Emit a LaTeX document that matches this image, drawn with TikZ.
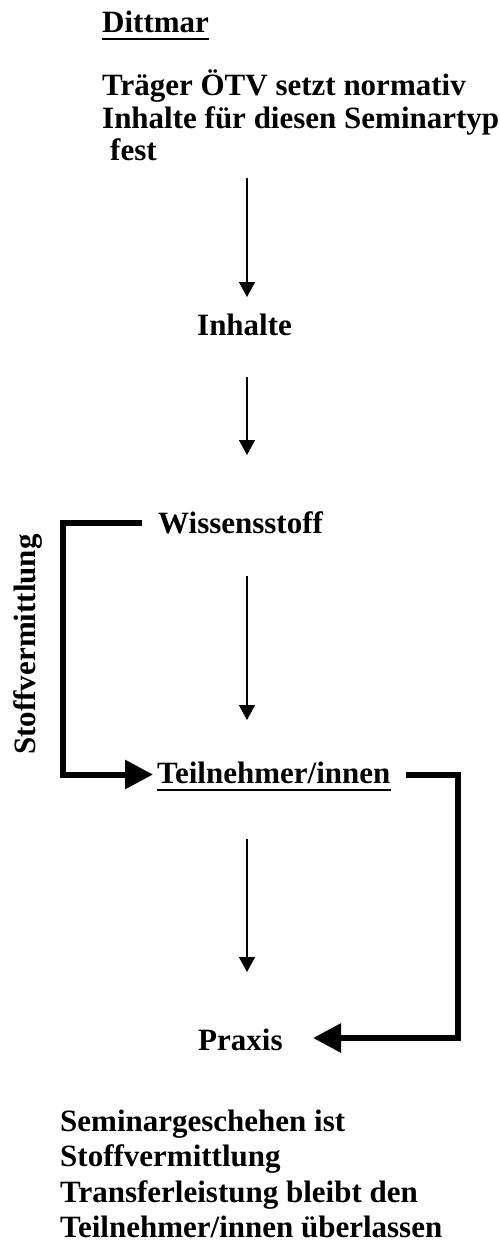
\documentclass[tikz,border=0pt]{standalone}
\usepackage{fontspec}
\setmainfont{Liberation Serif}
\usetikzlibrary{arrows.meta}
\tikzset{
  txt/.style={inner sep=0pt, anchor=base west, font=\fontsize{31}{33}\selectfont\bfseries},
  thinarrow/.style={line width=1.6pt, -{Triangle[width=16pt,length=15pt]}},
  thickarrow/.style={line width=6pt, line join=miter, -{Triangle[width=28pt,length=28pt]}},
  uline/.style={line width=2.6pt}
}
\begin{document}
\begin{tikzpicture}[x=1pt,y=-1pt]
\useasboundingbox (0,0) rectangle (499,1247);
% texts
\node[txt] (ditt) at (102,33) {Dittmar};
\node[txt] (t1) at (102,95) {Träger ÖTV setzt normativ};
\node[txt] (t2) at (102,128) {Inhalte für diesen Seminartyp};
\node[txt] (t3) at (110,160) {fest};
\node[txt] (inh) at (197,335) {Inhalte};
\node[txt] (wiss) at (158,533) {Wissensstoff};
\node[txt] (teil) at (157,783) {Teilnehmer/innen};
\node[txt] (prax) at (198,1050) {Praxis};
\node[txt, rotate=90, anchor=base] (stoff) at (35,644.5) {Stoffvermittlung};
\node[txt] (b1) at (60,1131) {Seminargeschehen ist};
\node[txt] (b2) at (60,1166) {Stoffvermittlung};
\node[txt] (b3) at (60,1202) {Transferleistung bleibt den};
\node[txt] (b4) at (60,1237) {Teilnehmer/innen überlassen};
% underlines
\draw[uline] ([yshift=-6pt]ditt.base west) -- ([yshift=-6pt]ditt.base east);
\draw[uline] ([yshift=-7pt]teil.base west) -- ([yshift=-7pt]teil.base east);
% arrow coordinates
\coordinate (a1s) at (247,178);
\coordinate (a1e) at (247,297);
\coordinate (a2s) at (247,377);
\coordinate (a2e) at (247,455);
\coordinate (a3s) at (247,576);
\coordinate (a3e) at (247,720);
\coordinate (a4s) at (247,839);
\coordinate (a4e) at (247,972);
\draw[thinarrow] (a1s) -- (a1e);
\draw[thinarrow] (a2s) -- (a2e);
\draw[thinarrow] (a3s) -- (a3e);
\draw[thinarrow] (a4s) -- (a4e);
% brackets
\coordinate (l0) at (142,522.5);
\coordinate (l1) at (62.5,522.5);
\coordinate (l2) at (62.5,774.5);
\coordinate (l3) at (153,774.5);
\draw[thickarrow] (l0) -- (l1) -- (l2) -- (l3);
\coordinate (r0) at (406,774.5);
\coordinate (r1) at (458,774.5);
\coordinate (r2) at (458,1038);
\coordinate (r3) at (313,1038);
\draw[thickarrow] (r0) -- (r1) -- (r2) -- (r3);
\end{tikzpicture}
\end{document}
